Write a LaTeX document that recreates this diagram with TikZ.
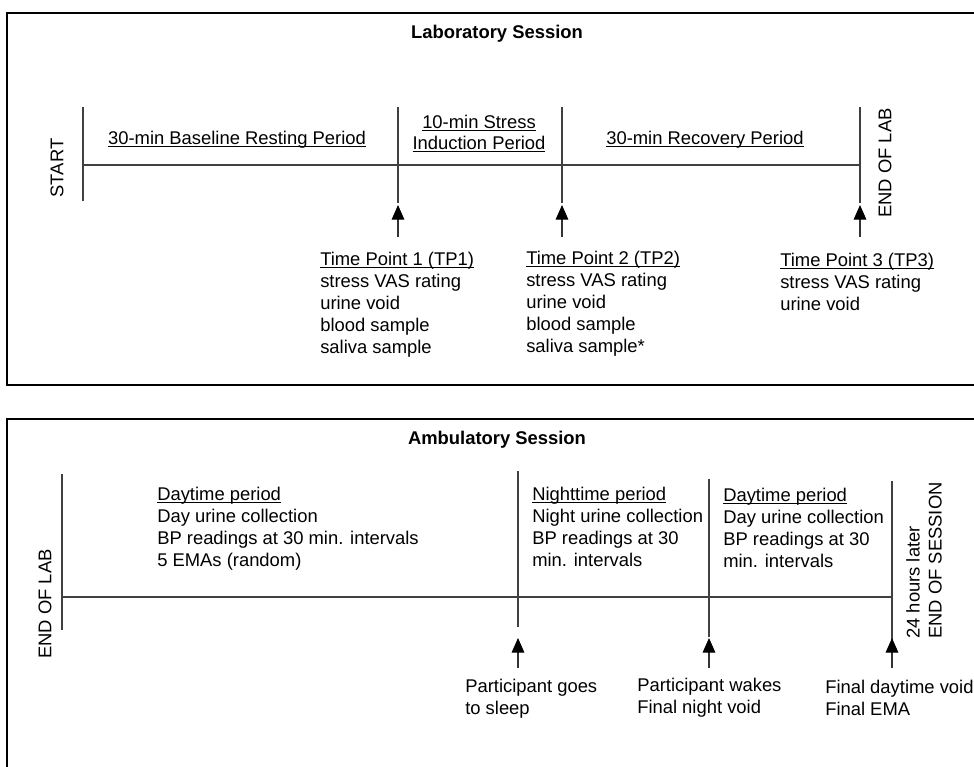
\documentclass[tikz,border=0pt]{standalone}
\usepackage{fontspec}
\setmainfont{Liberation Sans}
\usetikzlibrary{arrows.meta}

\newcommand{\undl}[1]{\setbox0\hbox{#1}\rlap{\vrule height -1.2pt depth 2pt width \wd0}\box0}

\begin{document}
\begin{tikzpicture}[x=0.75pt,y=-0.75pt,
  txt/.style={font=\fontsize{13.8}{16.4}\selectfont, inner sep=0pt, align=left},
  ttl/.style={txt, font=\fontsize{13.8}{16.4}\selectfont\bfseries},
  sidetxt/.style={txt, rotate=90},
  frame/.style={line width=2pt, draw=black},
  tline/.style={line width=0.8pt, draw=black!75},
  marker/.style={line width=0.8pt, draw=black!80, -{Triangle[width=9.5pt,length=11pt,color=black]}}]
\useasboundingbox (0,0) rectangle (974,767);
\begin{scope}
  \clip (0,0) rectangle (974,767);
  \draw[frame] (7,13) rectangle (990,385);
  \draw[frame] (7,419) rectangle (990,790);
\end{scope}

% Laboratory session
\node[ttl, anchor=base] (labtitle) at (497,39) {Laboratory Session};
\coordinate (lab start) at (83,165);
\coordinate (lab end) at (860,165);
\draw[tline] (lab start) -- (lab end);
\foreach \nm/\x/\yt/\yb in {labS/83/107/201, labA/398/107/203, labB/562/107/203, labC/860/107/203}{
  \coordinate (\nm top) at (\x,\yt);
  \coordinate (\nm bot) at (\x,\yb);
  \draw[tline] (\nm top) -- (\nm bot);
}
\foreach \nm/\x in {tp1/398, tp2/562, tp3/860}{
  \coordinate (\nm tail) at (\x,237);
  \coordinate (\nm tip) at (\x,205);
  \draw[marker] (\nm tail) -- (\nm tip);
}
\node[sidetxt, anchor=center] (start) at (57,168) {START};
\node[sidetxt, anchor=center] (labend) at (885,163) {END OF LAB};
\node[txt, anchor=base] (baseline) at (237,144) {\undl{30-min Baseline Resting Period}};
\node[txt, anchor=base] (stressA) at (479,128) {\undl{10-min Stress}};
\node[txt, anchor=base] (stressB) at (479,149) {\undl{Induction Period}};
\node[txt, anchor=base] (recovery) at (705,144) {\undl{30-min Recovery Period}};
% base = last line
\node[txt, anchor=base west] (tp1) at (320,353) {\undl{Time Point 1 (TP1)}\\stress VAS rating\\urine void\\blood sample\\saliva sample};
\node[txt, anchor=base west] (tp2) at (526,352) {\undl{Time Point 2 (TP2)}\\stress VAS rating\\urine void\\blood sample\\saliva sample*};
\node[txt, anchor=base west] (tp3) at (780,310) {\undl{Time Point 3 (TP3)}\\stress VAS rating\\urine void};

% Ambulatory session
\node[ttl, anchor=base] (ambtitle) at (497,444) {Ambulatory Session};
\coordinate (amb start) at (62,597);
\coordinate (amb end) at (892,597);
\draw[tline] (amb start) -- (amb end);
\foreach \nm/\x/\yt/\yb in {ambS/62/474/630, ambA/518/471/627, ambB/709/479/637, ambC/892/481/640}{
  \coordinate (\nm top) at (\x,\yt);
  \coordinate (\nm bot) at (\x,\yb);
  \draw[tline] (\nm top) -- (\nm bot);
}
\foreach \nm/\x in {sleep/518, wake/709, final/892}{
  \coordinate (\nm tail) at (\x,668);
  \coordinate (\nm tip) at (\x,638);
  \draw[marker] (\nm tail) -- (\nm tip);
}
\node[sidetxt, anchor=center] (ambstart) at (45,604) {END OF LAB};
\node[sidetxt, anchor=west] (ambend) at (924,639) {24 hours later\\END OF SESSION};
\node[txt, anchor=base west] (day1) at (157,566) {\undl{Daytime period}\\Day urine collection\\BP readings at 30 min. intervals\\5 EMAs (random)};
\node[txt, anchor=base west] (night) at (532,566) {\undl{Nighttime period}\\Night urine collection\\BP readings at 30\\min. intervals};
\node[txt, anchor=base west] (day2) at (723,567) {\undl{Daytime period}\\Day urine collection\\BP readings at 30\\min. intervals};
\node[txt, anchor=base west] (sleeplbl) at (465,714) {Participant goes\\to sleep};
\node[txt, anchor=base west] (wakelbl) at (637,713) {Participant wakes\\Final night void};
\node[txt, anchor=base west] (finallbl) at (825,715) {Final daytime void\\Final EMA};
\end{tikzpicture}
\end{document}
